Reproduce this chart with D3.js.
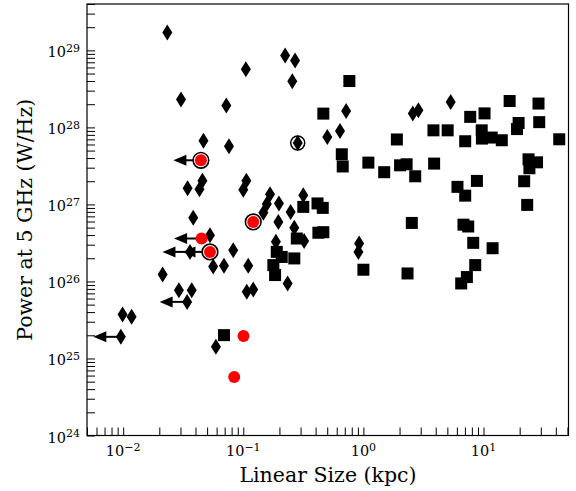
<!DOCTYPE html>
<html lang="en">
<head>
<meta charset="UTF-8">
<script src="https://d3js.org/d3.v7.min.js"></script>
<style>
  body { margin: 0; background: #fff; }
  text { font-family: "DejaVu Serif", serif; fill: #000; }
</style>
<title>Power vs linear size</title>
</head>
<body>
<div id="chart"></div>
<script>

// Diamonds: linear size (kpc) and power at 5 GHz (W/Hz)
const diamondSize = [0.0233, 0.0303, 0.0722, 0.105, 0.223, 0.270, 0.256, 0.0466, 0.0760, 0.284,
  0.501, 0.718, 0.639, 2.58, 2.87, 5.33, 0.0344, 0.0432, 0.0457, 0.106,
  0.100, 0.167, 0.198, 0.157, 0.147, 0.248, 0.196, 0.316, 0.266, 0.321,
  0.187, 0.234, 0.0383, 0.0528, 0.0360, 0.0825, 0.0562, 0.0691, 0.110, 0.0213,
  0.0291, 0.0372, 0.0341, 0.107, 0.121, 0.00989, 0.01175, 0.00957, 0.0592, 0.921,
  0.909];
const diamondPower = [1.70e29, 2.30e28, 1.92e28, 5.68e28, 8.61e28, 7.41e28, 3.96e28, 6.70e27, 5.69e27, 6.28e27,
  7.50e27, 1.63e28, 8.98e27, 1.52e28, 1.67e28, 2.13e28, 1.62e27, 1.57e27, 2.03e27, 2.03e27,
  1.55e27, 1.36e27, 1.03e27, 1.01e27, 7.80e26, 8.00e26, 5.93e26, 1.32e27, 4.99e26, 3.34e26,
  3.27e26, 9.42e25, 6.73e26, 3.98e26, 2.42e26, 2.55e26, 1.56e26, 1.60e26, 1.60e26, 1.23e26,
  7.71e25, 7.71e25, 5.43e25, 7.33e25, 7.84e25, 3.73e25, 3.48e25, 1.91e25, 1.42e25, 3.11e26,
  2.42e26];
// index of diamonds that are upper limits on size
const diamondLimits = [34, 42, 47];

// Squares
const squareSize = [0.764, 0.464, 0.661, 0.673, 1.10, 1.49, 1.90, 2.02, 2.29, 2.70,
  3.88, 3.83, 5.03, 7.04, 7.75, 10.2, 9.66, 9.70, 11.7, 14.2,
  16.5, 19.6, 19.0, 28.7, 29.1, 42.7, 23.7, 27.9, 24.1, 21.8,
  23.1, 6.07, 8.81, 7.04, 2.53, 6.81, 7.46, 8.21, 11.9, 8.53,
  7.27, 6.52, 1.00, 2.33, 0.316, 0.415, 0.459, 0.422, 0.464, 0.279,
  0.266, 0.190, 0.209, 0.178, 0.184, 0.0691];
const squarePower = [4.00e28, 1.51e28, 4.48e27, 3.11e27, 3.49e27, 2.62e27, 6.97e27, 3.22e27, 3.32e27, 2.32e27,
  3.39e27, 9.16e27, 9.16e27, 6.61e27, 1.37e28, 1.52e28, 9.16e27, 7.16e27, 7.38e27, 6.81e27,
  2.20e28, 1.14e28, 9.51e27, 2.04e28, 1.17e28, 7.01e27, 3.85e27, 3.52e27, 2.95e27, 2.00e27,
  9.86e26, 1.69e27, 2.02e27, 1.30e27, 5.75e26, 5.46e26, 5.17e26, 3.17e26, 2.70e26, 1.63e26,
  1.14e26, 9.42e25, 1.42e26, 1.27e26, 9.29e26, 1.03e27, 9.02e26, 4.29e26, 4.36e26, 3.61e26,
  1.99e26, 2.42e26, 2.08e26, 1.63e26, 1.21e26, 2.01e25];

// Red circles
const redSize = [0.0444, 0.0450, 0.0528, 0.121, 0.1004, 0.0840];
const redPower = [3.74e27, 3.61e26, 2.42e26, 5.93e26, 1.96e25, 5.74e24];
const redRinged = [true, false, true, true, false, false];
const redLimit = [true, true, true, false, false, false];

// Open circle
const openSize = [0.284];
const openPower = [6.28e27];

const xMajor = [0.01, 0.1, 1, 10];
const xMajorExp = ["\u22122", "\u22121", "0", "1"];
const yMajor = [1e24, 1e25, 1e26, 1e27, 1e28, 1e29];
const yMajorExp = ["24", "25", "26", "27", "28", "29"];

const W = 576, H = 491;
const pLeft = 87, pRight = 568.5, pTop = 4, pBottom = 435.5;

const svg = d3.select("#chart").append("svg")
  .attr("width", W).attr("height", H);

const x = d3.scaleLog().domain([0.005, 51]).range([pLeft, pRight]);
const y = d3.scaleLog().domain([1e24, 4e29]).range([pBottom, pTop]);

const minorTicks = (lo, hi) => {
  const out = [];
  for (let e = -4; e <= 30; e++) {
    for (let m = 1; m <= 9; m++) {
      const v = m * Math.pow(10, e);
      if (v >= lo * 0.999 && v <= hi * 1.001) out.push(v);
    }
  }
  return out;
};

// axes (ticks inside)
svg.append("g")
  .attr("transform", `translate(0,${pBottom})`)
  .call(d3.axisBottom(x).tickValues(minorTicks(0.005, 51)).tickSize(-8).tickFormat(""))
  .call(g => g.select(".domain").remove())
  .call(g => g.selectAll("line").attr("stroke", "#000").attr("stroke-width", 1));

svg.append("g")
  .attr("transform", `translate(${pLeft},0)`)
  .call(d3.axisLeft(y).tickValues(minorTicks(1e24, 4e29)).tickSize(-8).tickFormat(""))
  .call(g => g.select(".domain").remove())
  .call(g => g.selectAll("line").attr("stroke", "#000").attr("stroke-width", 1));

// frame
svg.append("rect")
  .attr("x", pLeft).attr("y", pTop)
  .attr("width", pRight - pLeft).attr("height", pBottom - pTop)
  .attr("fill", "none").attr("stroke", "#000").attr("stroke-width", 1.2);

// tick labels
const xl = svg.append("g").selectAll("text").data(xMajor).join("text")
  .attr("x", d => x(d)).attr("y", 456)
  .attr("text-anchor", "middle").attr("font-size", 14.5);
xl.append("tspan").text("10");
xl.append("tspan").attr("dy", -5.5).attr("font-size", 11).text((d, i) => xMajorExp[i]);

const yl = svg.append("g").selectAll("text").data(yMajor).join("text")
  .attr("x", 80).attr("y", d => y(d) + 7)
  .attr("text-anchor", "end").attr("font-size", 14.5);
yl.append("tspan").text("10");
yl.append("tspan").attr("dy", -5.5).attr("font-size", 11).text((d, i) => yMajorExp[i]);

// axis titles
svg.append("text")
  .attr("x", 328).attr("y", 482)
  .attr("text-anchor", "middle").attr("font-size", 20.5)
  .text("Linear Size (kpc)");

svg.append("text")
  .attr("transform", `translate(32,${(pTop + pBottom) / 2}) rotate(-90)`)
  .attr("text-anchor", "middle").attr("font-size", 20.5)
  .text("Power at 5 GHz (W/Hz)");

const plot = svg.append("g");

// squares
const squares = squareSize.map((s, i) => ({ s, p: squarePower[i] }));
plot.selectAll(".sq").data(squares).join("rect")
  .attr("class", "sq")
  .attr("x", d => x(d.s) - 6).attr("y", d => y(d.p) - 6)
  .attr("width", 12).attr("height", 12)
  .attr("fill", "#000");

// diamonds
const diamonds = diamondSize.map((s, i) => ({ s, p: diamondPower[i], lim: diamondLimits.includes(i) }));
plot.selectAll(".dm").data(diamonds).join("path")
  .attr("class", "dm")
  .attr("transform", d => `translate(${x(d.s)},${y(d.p)})`)
  .attr("d", "M0,-8L5,0L0,8L-5,0Z")
  .attr("fill", "#000");

// upper-limit arrows
const reds = redSize.map((s, i) => ({ s, p: redPower[i], ring: redRinged[i], lim: redLimit[i] }));
const limits = diamonds.filter(d => d.lim).concat(reds.filter(d => d.lim));
const arrowFactor = 0.59;
plot.selectAll(".arr").data(limits).join("line")
  .attr("class", "arr")
  .attr("x1", d => x(d.s)).attr("x2", d => x(d.s * arrowFactor) + 6)
  .attr("y1", d => y(d.p)).attr("y2", d => y(d.p))
  .attr("stroke", "#000").attr("stroke-width", 2);
plot.selectAll(".head").data(limits).join("path")
  .attr("class", "head")
  .attr("transform", d => `translate(${x(d.s * arrowFactor)},${y(d.p)})`)
  .attr("d", "M0,0L13,-5.5L13,5.5Z")
  .attr("fill", "#000");

// open circle
plot.selectAll(".open").data(openSize.map((s, i) => ({ s, p: openPower[i] }))).join("circle")
  .attr("class", "open")
  .attr("cx", d => x(d.s)).attr("cy", d => y(d.p)).attr("r", 7)
  .attr("fill", "none").attr("stroke", "#000").attr("stroke-width", 1.5);

// red circles
plot.selectAll(".ring").data(reds.filter(d => d.ring)).join("circle")
  .attr("class", "ring")
  .attr("cx", d => x(d.s)).attr("cy", d => y(d.p)).attr("r", 7.8)
  .attr("fill", "#fff").attr("stroke", "#000").attr("stroke-width", 1.6);
plot.selectAll(".red").data(reds).join("circle")
  .attr("class", "red")
  .attr("cx", d => x(d.s)).attr("cy", d => y(d.p)).attr("r", 6)
  .attr("fill", "#ff0000");

</script>
</body>
</html>
